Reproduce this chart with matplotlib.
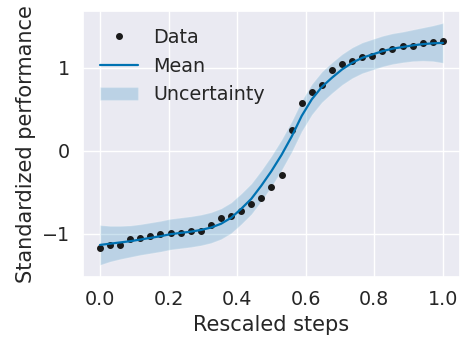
import numpy as np
import matplotlib
matplotlib.use("Agg")
import matplotlib.pyplot as plt
import seaborn as sns

# rescaled steps (35 evenly spaced observations)
steps = np.linspace(0, 1, 35)

data = [-1.176, -1.132, -1.132, -1.061, -1.049, -1.033, -1.009, -0.986, -0.990,
        -0.966, -0.962, -0.891, -0.808, -0.792, -0.724, -0.641, -0.574, -0.434,
        -0.293, 0.253, 0.578, 0.713, 0.792, 0.978, 1.045, 1.081, 1.128, 1.140,
        1.200, 1.231, 1.259, 1.267, 1.298, 1.314, 1.327]

mean = [-1.135, -1.12, -1.105, -1.09, -1.07, -1.05, -1.03, -1.005, -0.99,
        -0.975, -0.955, -0.926, -0.88, -0.808, -0.70, -0.58, -0.42, -0.245,
        -0.05, 0.17, 0.42, 0.62, 0.77, 0.88, 0.98, 1.06, 1.12, 1.16,
        1.20, 1.23, 1.25, 1.27, 1.285, 1.295, 1.30]

halfwidth = [0.24, 0.215, 0.20, 0.19, 0.185, 0.185, 0.185, 0.185, 0.185,
             0.185, 0.185, 0.185, 0.185, 0.185, 0.185, 0.185, 0.185, 0.185,
             0.185, 0.185, 0.185, 0.185, 0.185, 0.185, 0.185, 0.185, 0.185, 0.185,
             0.185, 0.185, 0.185, 0.19, 0.20, 0.215, 0.24]

sns.set_theme(context='notebook', style='darkgrid', palette='colorblind', font_scale=1.25)

mean = np.array(mean)
halfwidth = np.array(halfwidth)

fig, ax = plt.subplots(figsize=(4.68, 3.51), dpi=100)
fig.subplots_adjust(left=0.177, right=0.983, top=0.969, bottom=0.211)

ax.plot(steps, data, 'o', color='k', ms=4, label='Data')
ax.plot(steps, mean, color='#0072B2', lw=1.6, label='Mean')
ax.fill_between(steps, mean - halfwidth, mean + halfwidth, facecolor='#0072B2',
                edgecolor='white', linewidth=1, alpha=0.2, label='Uncertainty')

ax.set_xlabel('Rescaled steps')
ax.set_ylabel('Standardized performance')
ax.set_xticks([0, 0.2, 0.4, 0.6, 0.8, 1.0])
ax.set_yticks([-1, 0, 1])
ax.legend(loc='upper left', frameon=False)

fig.savefig('out.png', dpi=100)
